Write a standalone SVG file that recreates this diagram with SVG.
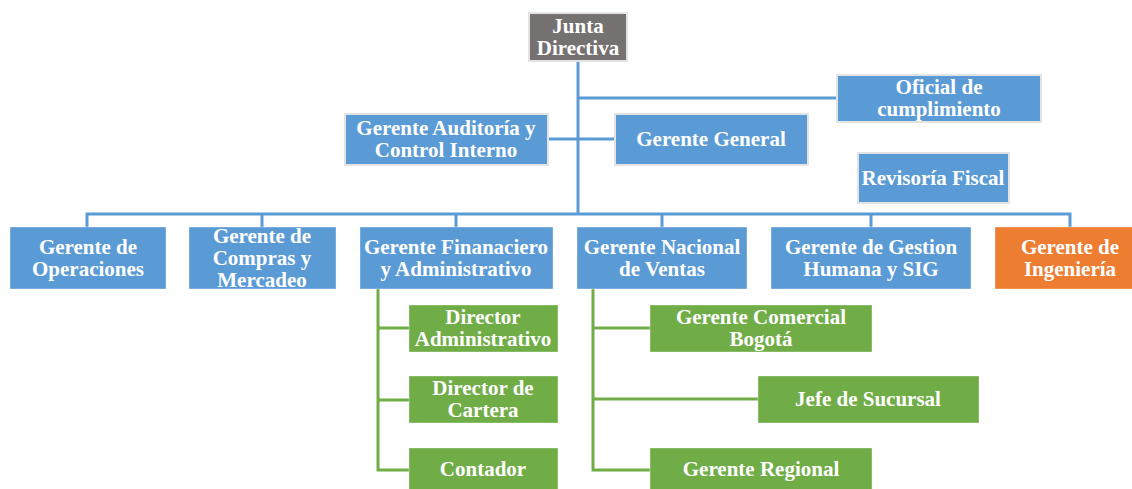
<svg xmlns="http://www.w3.org/2000/svg" width="1132" height="489" viewBox="0 0 1132 489">
  <style>
    .box { stroke-width: 2; }
    .top { stroke: #e3e3e3; }
    .low { stroke: #ffffff; stroke-opacity: 0.35; stroke-width: 1; }
    .blue { fill: #5b9bd5; }
    .gray { fill: #767171; }
    .orange { fill: #ed7d31; }
    .green { fill: #70ad47; }
    text { font-family: "Liberation Serif", "Times New Roman", serif; font-weight: bold; font-size: 21px; fill: #ffffff; text-anchor: middle; }
    .cb { stroke: #5b9bd5; stroke-width: 3; fill: none; }
    .cg { stroke: #70ad47; stroke-width: 3; fill: none; }
  </style>
  <rect width="1132" height="489" fill="#ffffff"/>

  <!-- connectors -->
  <g id="connectors">
    <path class="cb" d="M578 61 V214"/>
    <path class="cb" d="M578 98 H838"/>
    <path class="cb" d="M548 139 H615"/>
    <path class="cb" d="M87 227 V214 H1070 V227"/>
    <path class="cb" d="M262 214 V227 M456 214 V227 M662 214 V227 M871 214 V227"/>
    <path class="cg" d="M378 289 V470 H409 M378 328 H409 M378 400 H409"/>
    <path class="cg" d="M593 289 V470 H650 M593 328 H650 M593 399 H758"/>
  </g>

  <!-- board and staff positions -->
  <g id="junta">
    <rect class="box top gray" x="529" y="13" width="98" height="48"/>
    <text x="578" y="33">Junta</text>
    <text x="578" y="55">Directiva</text>
  </g>
  <g id="oficial">
    <rect class="box top blue" x="837" y="75" width="204" height="47"/>
    <text x="939" y="94">Oficial de</text>
    <text x="939" y="116">cumplimiento</text>
  </g>
  <g id="auditoria">
    <rect class="box top blue" x="345" y="114" width="203" height="51"/>
    <text x="446" y="135">Gerente Auditoría y</text>
    <text x="446" y="157">Control Interno</text>
  </g>
  <g id="general">
    <rect class="box top blue" x="615" y="114" width="193" height="51"/>
    <text x="711" y="146">Gerente General</text>
  </g>
  <g id="revisoria">
    <rect class="box top blue" x="858" y="153" width="151" height="50"/>
    <text x="933" y="185">Revisoría Fiscal</text>
  </g>

  <!-- management row -->
  <g id="operaciones">
    <rect class="box low blue" x="10" y="227" width="156" height="62"/>
    <text x="88" y="254">Gerente de</text>
    <text x="88" y="276">Operaciones</text>
  </g>
  <g id="compras">
    <rect class="box low blue" x="189" y="227" width="147" height="62"/>
    <text x="262" y="243">Gerente de</text>
    <text x="262" y="265">Compras y</text>
    <text x="262" y="287">Mercadeo</text>
  </g>
  <g id="financiero">
    <rect class="box low blue" x="360" y="227" width="193" height="62"/>
    <text x="456" y="254">Gerente Finanaciero</text>
    <text x="456" y="276">y Administrativo</text>
  </g>
  <g id="ventas">
    <rect class="box low blue" x="577" y="227" width="170" height="62"/>
    <text x="662" y="254">Gerente Nacional</text>
    <text x="662" y="276">de Ventas</text>
  </g>
  <g id="gestion">
    <rect class="box low blue" x="771" y="227" width="200" height="62"/>
    <text x="871" y="254">Gerente de Gestion</text>
    <text x="871" y="276">Humana y SIG</text>
  </g>
  <g id="ingenieria">
    <rect class="box low orange" x="995" y="227" width="150" height="62"/>
    <text x="1070" y="254">Gerente de</text>
    <text x="1070" y="276">Ingeniería</text>
  </g>

  <!-- finance reports -->
  <g id="dir-admin">
    <rect class="box low green" x="409" y="305" width="149" height="47"/>
    <text x="483" y="324">Director</text>
    <text x="483" y="346">Administrativo</text>
  </g>
  <g id="dir-cartera">
    <rect class="box low green" x="409" y="376" width="149" height="47"/>
    <text x="483" y="395">Director de</text>
    <text x="483" y="417">Cartera</text>
  </g>
  <g id="contador">
    <rect class="box low green" x="409" y="448" width="149" height="42"/>
    <text x="483" y="476">Contador</text>
  </g>

  <!-- sales reports -->
  <g id="comercial">
    <rect class="box low green" x="650" y="305" width="222" height="47"/>
    <text x="761" y="324">Gerente Comercial</text>
    <text x="761" y="346">Bogotá</text>
  </g>
  <g id="sucursal">
    <rect class="box low green" x="758" y="376" width="221" height="47"/>
    <text x="868" y="406">Jefe de Sucursal</text>
  </g>
  <g id="regional">
    <rect class="box low green" x="650" y="448" width="222" height="42"/>
    <text x="761" y="476">Gerente Regional</text>
  </g>
</svg>
